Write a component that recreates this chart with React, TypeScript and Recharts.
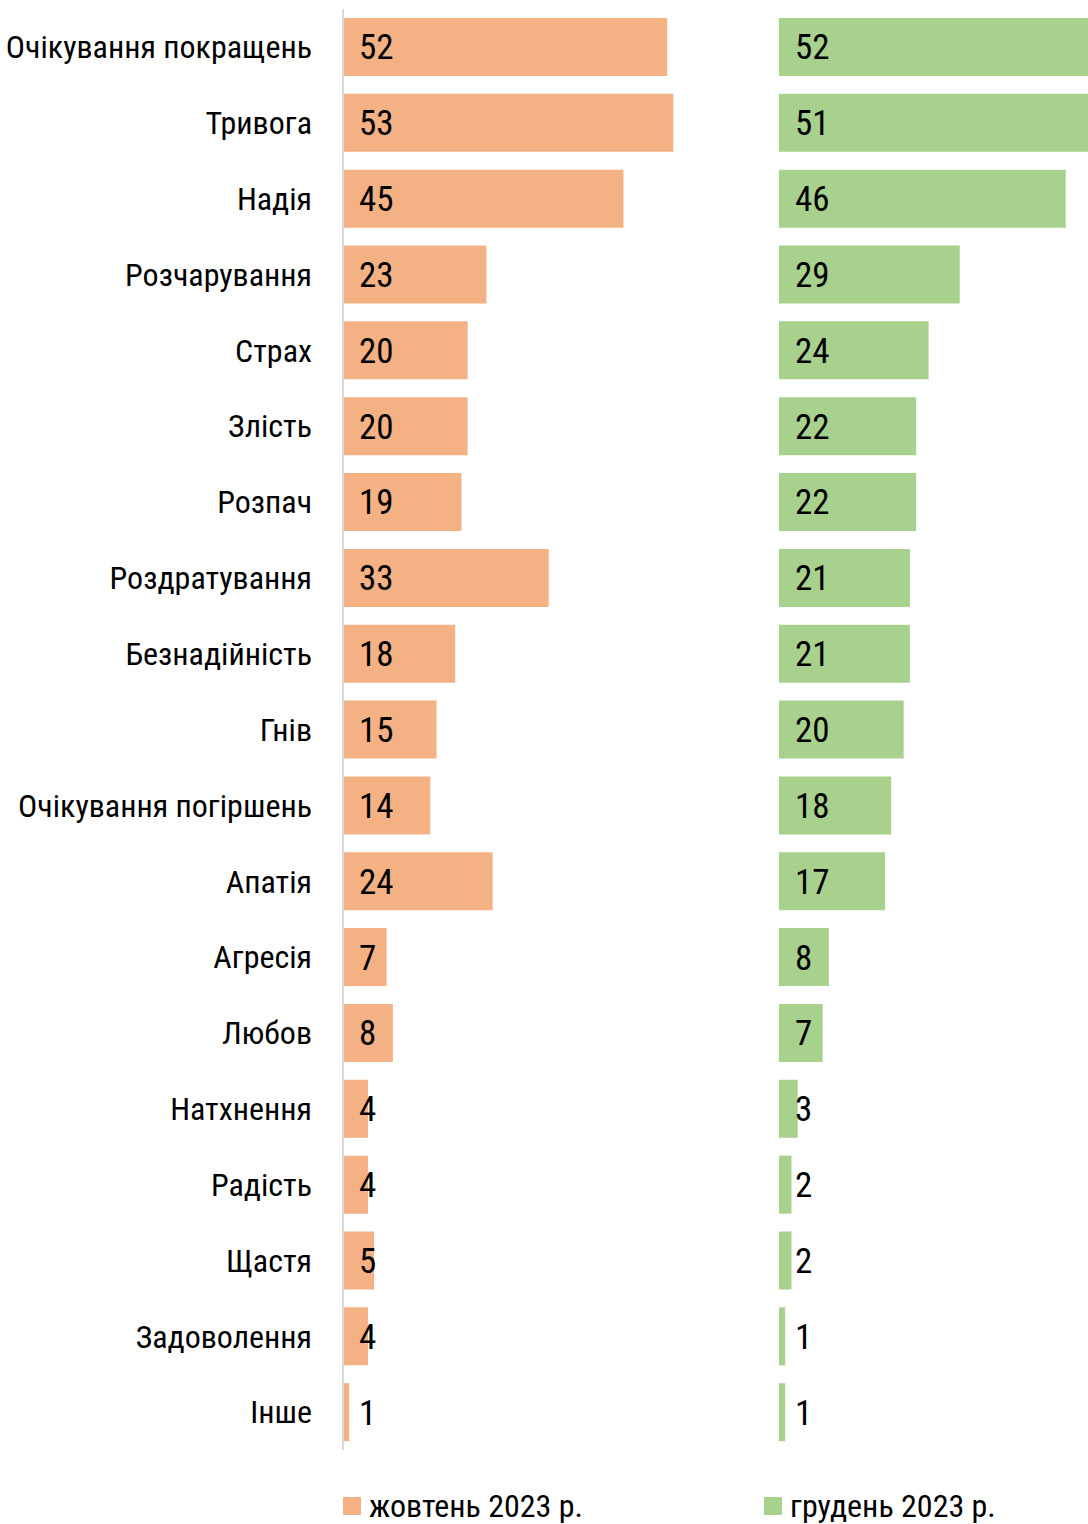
import React from "react";
import { BarChart, Bar, XAxis, YAxis, LabelList } from "recharts";

const categories = [
  "Очікування покращень",
  "Тривога",
  "Надія",
  "Розчарування",
  "Страх",
  "Злість",
  "Розпач",
  "Роздратування",
  "Безнадійність",
  "Гнів",
  "Очікування погіршень",
  "Апатія",
  "Агресія",
  "Любов",
  "Натхнення",
  "Радість",
  "Щастя",
  "Задоволення",
  "Інше",
];
const october = [52, 53, 45, 23, 20, 20, 19, 33, 18, 15, 14, 24, 7, 8, 4, 4, 5, 4, 1];
const december = [52, 51, 46, 29, 24, 22, 22, 21, 21, 20, 18, 17, 8, 7, 3, 2, 2, 1, 1];
const seriesNames = ["жовтень 2023 р.", "грудень 2023 р."];

const ORANGE = "#F4B183";
const GREEN = "#A9D18E";
const FONT = "'Roboto Condensed', 'Liberation Sans Narrow', 'DejaVu Sans Condensed', Roboto, sans-serif";

const data = categories.map((name, i) => ({ name, oct: october[i], dec: december[i] }));

const PLOT_H = 1460;

const App: React.FC = () => {
  return (
    <div
      style={{
        position: "absolute",
        left: 0,
        top: 0,
        width: 1088,
        height: 1524,
        overflow: "hidden",
        background: "#fff",
        fontFamily: FONT,
        fontStretch: "condensed",
      }}
    >
      <div style={{ position: "absolute", left: 0, top: 0 }}>
        <BarChart
          layout="vertical"
          width={717}
          height={PLOT_H}
          data={data}
          margin={{ top: 9, right: 0, bottom: 10, left: 0 }}
          style={{ fontFamily: FONT, fontStretch: "condensed" }}
        >
          <XAxis type="number" domain={[0, 60]} hide />
          <YAxis
            type="category"
            dataKey="name"
            width={343}
            tickSize={0}
            tickMargin={31}
            tickLine={false}
            axisLine={{ stroke: "#D9D9D9", strokeWidth: 2 }}
            tick={{ fill: "#000", fontSize: 32, fontFamily: FONT }}
            interval={0}
          />
          <Bar dataKey="oct" fill={ORANGE} barSize={58} isAnimationActive={false}>
            <LabelList
              dataKey="oct"
              position="insideLeft"
              offset={16}
              fill="#000"
              fontSize={35}
              fontFamily={FONT}
            />
          </Bar>
        </BarChart>
      </div>
      <div style={{ position: "absolute", left: 717, top: 0 }}>
        <BarChart
          layout="vertical"
          width={436}
          height={PLOT_H}
          data={data}
          margin={{ top: 9, right: 0, bottom: 10, left: 62 }}
        >
          <XAxis type="number" domain={[0, 60]} hide />
          <YAxis type="category" dataKey="name" hide />
          <Bar dataKey="dec" fill={GREEN} barSize={58} isAnimationActive={false}>
            <LabelList
              dataKey="dec"
              position="insideLeft"
              offset={16}
              fill="#000"
              fontSize={35}
              fontFamily={FONT}
            />
          </Bar>
        </BarChart>
      </div>
      {[ORANGE, GREEN].map((c, i) => (
        <div
          key={i}
          style={{
            position: "absolute",
            left: i === 0 ? 343 : 764,
            top: 1490,
            height: 32,
            display: "flex",
            alignItems: "center",
            fontSize: 32,
            lineHeight: "32px",
            whiteSpace: "nowrap",
            color: "#000",
            fontFamily: FONT,
          }}
        >
          <span style={{ width: 18, height: 18, background: c, display: "inline-block", marginRight: 8 }} />
          <span>{seriesNames[i]}</span>
        </div>
      ))}
    </div>
  );
};

export default App;
